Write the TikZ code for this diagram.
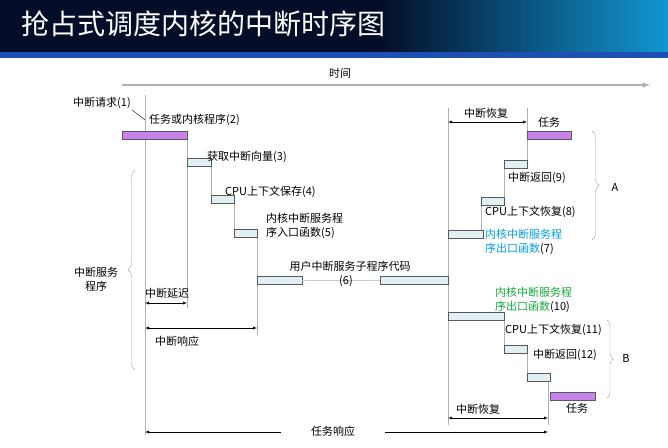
\documentclass[tikz,border=0pt]{standalone}
\usepackage{fontspec}
\setmainfont{Noto Sans CJK SC}
\usetikzlibrary{positioning,decorations.pathreplacing}
\definecolor{navy}{RGB}{4,14,40}
\definecolor{strip}{RGB}{30,80,180}
\definecolor{lilac}{RGB}{200,130,235}
\definecolor{pale}{RGB}{225,240,242}
\definecolor{sky}{RGB}{0,160,230}
\definecolor{leaf}{RGB}{20,170,60}
\begin{document}
\begin{tikzpicture}[x=1pt,y=-1pt,>=latex,
  lbl/.style={font=\fontsize{11}{14}\selectfont,inner sep=1pt},
  bar/.style={draw=gray!70!black,fill=pale,minimum height=8pt,inner sep=0pt,anchor=north west},
  taskbar/.style={bar,fill=lilac},
  guide/.style={gray!60,thin},
  span/.style={<->,thin,black}]
\useasboundingbox (0,0) rectangle (668,447);
% title
\fill[navy] (0,0) rectangle (668,52);
\fill[left color=navy,right color=strip!60!cyan] (380,0) rectangle (668,52);
\fill[strip] (0,52) rectangle (668,58);
\node[anchor=west,white,font=\fontsize{28}{32}\selectfont] (title) at (18,24) {抢占式调度内核的中断时序图};
% time axis
\coordinate (t0) at (122,85); \coordinate (t1) at (650,85);
\draw[->,gray!60,line width=1.5pt] (t0) -- (t1);
\node[lbl] (time) at (340,73) {时间};
% guides
\draw[guide] (145,95) -- (145,435);
\draw[guide] (187,139) -- (187,308);
\draw[guide] (211,167) -- (211,195);
\draw[guide] (234,203) -- (234,229);
\draw[guide] (257,238) -- (257,335);
\draw[guide] (448,108) -- (448,425);
\draw[guide] (527,108) -- (527,160);
\draw[guide] (504,169) -- (504,197);
\draw[guide] (481,205) -- (481,230);
\draw[guide] (504,321) -- (504,345);
\draw[guide] (527,353) -- (527,373);
\draw[guide] (548,381) -- (548,425);
% bars
\node[taskbar,minimum width=65pt] (task0) at (122,131) {};
\node[bar,minimum width=24pt] (b3) at (187,158) {};
\node[bar,minimum width=23pt] (b4) at (211,195) {};
\node[bar,minimum width=23pt] (b5) at (234,229) {};
\node[bar,minimum width=45pt] (b6a) at (257,276) {};
\node[bar,minimum width=68pt] (b6b) at (380,276) {};
\draw[gray!40] (b6a.east) -- (b6b.west);
\node[bar,minimum width=35pt] (b7) at (448,230) {};
\node[bar,minimum width=23pt] (b8) at (481,197) {};
\node[bar,minimum width=23pt] (b9) at (504,160) {};
\node[taskbar,minimum width=44pt] (task1) at (527,131) {};
\node[bar,minimum width=56pt] (b10) at (448,312) {};
\node[bar,minimum width=23pt] (b11) at (504,345) {};
\node[bar,minimum width=23pt] (b12) at (527,373) {};
\node[taskbar,minimum width=45pt] (task2) at (550,392) {};
% labels
\node[lbl] (req) at (102,103) {中断请求(1)};
\draw[thin] (req.south east) -- (145,120);
\node[lbl,anchor=west] (l2) at (148,120) {任务或内核程序(2)};
\node[lbl,anchor=west] (l3) at (206,157) {获取中断向量(3)};
\node[lbl,anchor=west] (l4) at (224,192) {CPU上下文保存(4)};
\node[lbl,anchor=west,align=left] (l5) at (265,226) {内核中断服务程\\序入口函数(5)};
\node[lbl] (l6) at (350,266) {用户中断服务子程序代码};
\node[lbl] (l6n) at (346,281) {(6)};
\node[lbl,anchor=west,align=left] (l7) at (484,242) {\textcolor{sky}{内核中断服务程}\\\textcolor{sky}{序出口函数}(7)};
\node[lbl,anchor=west] (l8) at (484,212) {CPU上下文恢复(8)};
\node[lbl,anchor=west] (l9) at (507,178) {中断返回(9)};
\node[lbl] (l1t) at (549,122) {任务};
\node[lbl,anchor=west,align=left] (l10) at (494,300) {\textcolor{leaf}{内核中断服务程}\\\textcolor{leaf}{序出口函数}(10)};
\node[lbl,anchor=west] (l11) at (504,330) {CPU上下文恢复(11)};
\node[lbl,anchor=west] (l12) at (532,355) {中断返回(12)};
\node[lbl] (l2t) at (577,408) {任务};
\node[lbl,align=center] (isr) at (96,279) {中断服务\\程序};
% braces
\draw[gray!70,decorate,decoration={brace,amplitude=7pt}] (135,370) -- (135,170);
\draw[gray!70,decorate,decoration={brace,amplitude=7pt}] (592,131) -- (592,240);
\node[lbl] (A) at (615,187) {A};
\draw[gray!70,decorate,decoration={brace,amplitude=6pt}] (607,320) -- (607,398);
\node[lbl] (B) at (626,358) {B};
% spans
\draw[span] (145,303) -- (187,303);
\node[lbl] (delay) at (167,293) {中断延迟};
\draw[span] (145,328) -- (257,328);
\node[lbl] (resp) at (177,341) {中断响应};
\draw[span] (448,122) -- (527,122);
\node[lbl] (rec1) at (486,113) {中断恢复};
\draw[span] (448,418) -- (548,418);
\node[lbl] (rec2) at (478,409) {中断恢复};
\draw[span] (145,432) -- (548,432);
\node[lbl,fill=white,inner xsep=30pt] (tresp) at (333,431) {任务响应};
\end{tikzpicture}
\end{document}
